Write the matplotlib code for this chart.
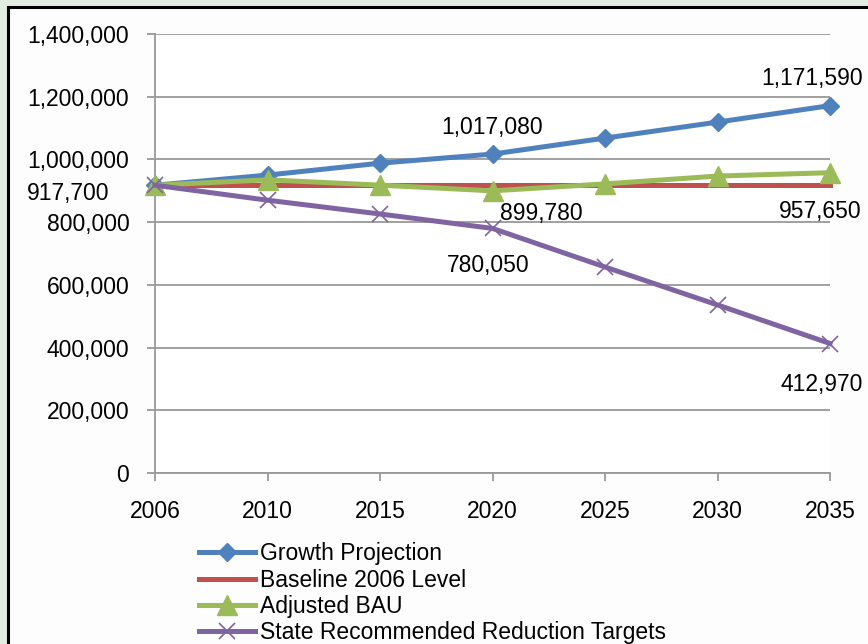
import numpy as np
import matplotlib.pyplot as plt
from matplotlib.patches import Rectangle
from matplotlib.ticker import FuncFormatter

plt.rcParams['font.family'] = ['Liberation Sans', 'DejaVu Sans']

years = ['2006', '2010', '2015', '2020', '2025', '2030', '2035']
growth = [917700, 950000, 988000, 1017080, 1068000, 1119000, 1171590]
baseline = [917700, 917700, 917700, 917700, 917700, 917700, 917700]
adjusted = [917700, 935000, 918000, 899780, 922000, 947000, 957650]
reduction = [917700, 870000, 826000, 780050, 657000, 536000, 412970]

series_names = ['Growth Projection', 'Baseline 2006 Level', 'Adjusted BAU',
                'State Recommended Reduction Targets']

FS = 16.5

fig = plt.figure(figsize=(8.68, 6.44), dpi=100, facecolor='#E2ECE2')

# inner white panel with black border (runs off the right/bottom edges)
panel = Rectangle((8 / 868, -0.05), 1.0, 1 - 7 / 644 + 0.05,
                  transform=fig.transFigure, facecolor='#FCFDFC',
                  edgecolor='black', linewidth=2.2, zorder=-10)
fig.patches.append(panel)

ax = fig.add_axes([155 / 868, 1 - 473 / 644, (830 - 155) / 868, (473 - 34) / 644])
ax.set_facecolor('white')

x = np.arange(len(years))
ax.plot(x, growth, color='#4F81BD', lw=3.6, marker='D', ms=9.5,
        label=series_names[0], zorder=3, clip_on=False)
ax.plot(x, baseline, color='#C0504D', lw=3.6, label=series_names[1], zorder=3,
        clip_on=False)
ax.plot(x, adjusted, color='#9BBB59', lw=3.6, marker='^', ms=14,
        label=series_names[2], zorder=3, clip_on=False)
ax.plot(x, reduction, color='#8064A2', lw=3.6, marker='x', ms=12, mew=1.2,
        label=series_names[3], zorder=3, clip_on=False)

ax.set_xlim(0, len(years) - 1)
ax.set_ylim(0, 1400000)
ax.set_yticks(np.arange(0, 1400001, 200000))
ax.yaxis.set_major_formatter(FuncFormatter(lambda v, p: f'{int(v):,}'))
ax.set_xticks(x)
ax.set_xticklabels(years)
ax.grid(axis='y', color='#999999', lw=1.3)
ax.set_axisbelow(True)
for s in ['top', 'right']:
    ax.spines[s].set_visible(False)
for s in ['left', 'bottom']:
    ax.spines[s].set_color('#999999')
    ax.spines[s].set_linewidth(1.3)
ax.tick_params(axis='both', colors='#999999', labelcolor='black', labelsize=FS,
               width=1.3, length=5.5)
ax.tick_params(axis='y', pad=13)
ax.tick_params(axis='x', pad=14)

# data labels (index, series, pixel offset)
labels = [
    (0, growth, (-87, -8)),
    (3, growth, (0, 27)),
    (6, growth, (-18, 27)),
    (3, adjusted, (49, -23)),
    (6, adjusted, (-10, -39)),
    (3, reduction, (-4, -37)),
    (6, reduction, (-8, -41)),
]
for i, ser, off in labels:
    ax.annotate(f'{ser[i]:,}', (x[i], ser[i]), xytext=off,
                textcoords='offset pixels', ha='center', va='center',
                fontsize=FS, annotation_clip=False, zorder=5)

fig.legend(loc='upper left', bbox_to_anchor=(190 / 868, 1 - 533 / 644),
           frameon=False, fontsize=FS, handlelength=2.45, handletextpad=0.2,
           labelspacing=0.15, borderaxespad=0)

fig.savefig('out.png', dpi=100, facecolor=fig.get_facecolor())
